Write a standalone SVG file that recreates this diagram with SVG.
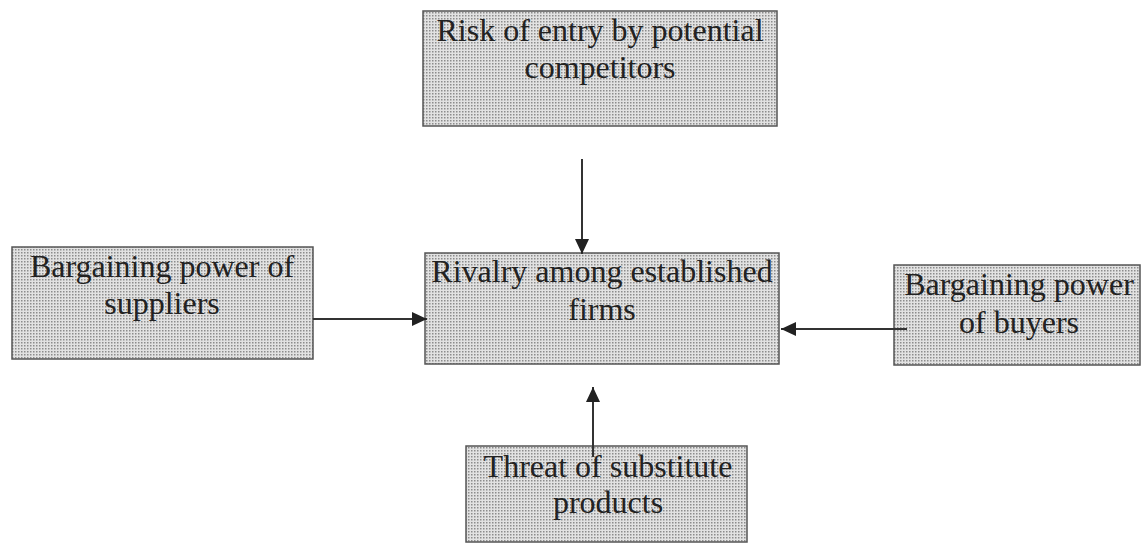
<svg xmlns="http://www.w3.org/2000/svg" width="1144" height="544" viewBox="0 0 1144 544">
<style>
.box{fill:url(#dots);stroke:#555;stroke-width:1.5}
.t{font-family:"Liberation Serif","Times New Roman",serif;font-size:32px;fill:#222;text-anchor:middle}
.c{stroke:#333;stroke-width:2;fill:none;marker-end:url(#ah)}
</style>
<defs>
<pattern id="dots" width="3" height="3" patternUnits="userSpaceOnUse">
<rect width="3" height="3" fill="#e2e2e2"/>
<rect width="1.5" height="1.5" fill="#8c8c8c"/>
</pattern>
<marker id="ah" markerWidth="15" markerHeight="14" refX="15" refY="7" orient="auto" markerUnits="userSpaceOnUse">
<path d="M0,0 L15,7 L0,14 Z" fill="#222"/>
</marker>
</defs>
<rect width="1144" height="544" fill="#fff"/>
<g id="node-entry">
<rect class="box" x="423" y="11" width="354" height="115"/>
<text class="t" x="600" y="41">Risk of entry by potential</text>
<text class="t" x="600" y="78">competitors</text>
</g>
<g id="node-suppliers">
<rect class="box" x="12" y="247" width="301" height="112"/>
<text class="t" x="162" y="277">Bargaining power of</text>
<text class="t" x="162" y="314">suppliers</text>
</g>
<g id="node-rivalry">
<rect class="box" x="425" y="253" width="354" height="111"/>
<text class="t" x="602" y="282">Rivalry among established</text>
<text class="t" x="602" y="320">firms</text>
</g>
<g id="node-buyers">
<rect class="box" x="894" y="265" width="246" height="100"/>
<text class="t" x="1019" y="295">Bargaining power</text>
<text class="t" x="1019" y="333">of buyers</text>
</g>
<g id="node-substitutes">
<rect class="box" x="466" y="446" width="281" height="96"/>
<text class="t" x="608" y="477">Threat of substitute</text>
<text class="t" x="608" y="513">products</text>
</g>
<g id="connectors">
<line class="c" x1="582" y1="159" x2="582" y2="254"/>
<line class="c" x1="313" y1="319" x2="427" y2="319"/>
<line class="c" x1="907" y1="329" x2="781" y2="329"/>
<line class="c" x1="593" y1="457" x2="593" y2="387"/>
</g>
</svg>
